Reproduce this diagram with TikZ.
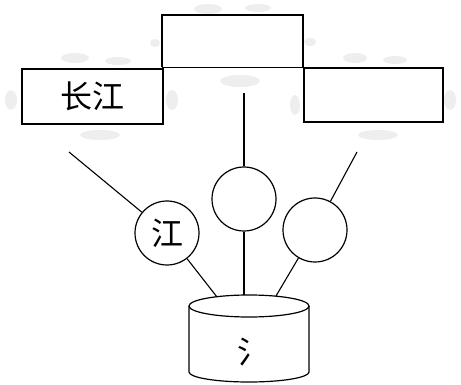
\documentclass[tikz,border=0pt]{standalone}
\usepackage{fontspec}
\newfontfamily\cjk{Noto Sans CJK SC}
\begin{document}
\begin{tikzpicture}[x=1pt,y=-1pt,
  box/.style={draw, line width=2pt},
  ring/.style={draw, circle, line width=1.2pt, minimum size=64pt, inner sep=0pt, font=\cjk\fontsize{32}{32}\selectfont},
  wire/.style={line width=1.1pt},
  cloud/.style={fill=gray!13, draw=none}]
\useasboundingbox (0,0) rectangle (461,385);
% decorative clouds
\fill[cloud] (208,9) ellipse (14 and 5);
\fill[cloud] (258,8) ellipse (13 and 4);
\fill[cloud] (155,43) ellipse (5 and 4);
\fill[cloud] (310,42) ellipse (6 and 4);
\fill[cloud] (75,58) ellipse (14 and 5);
\fill[cloud] (118,61) ellipse (13 and 4);
\fill[cloud] (11,100) ellipse (6 and 10);
\fill[cloud] (172,100) ellipse (6 and 10);
\fill[cloud] (240,81) ellipse (20 and 6);
\fill[cloud] (355,58) ellipse (12 and 5);
\fill[cloud] (395,60) ellipse (12 and 4);
\fill[cloud] (450,100) ellipse (6 and 10);
\fill[cloud] (295,105) ellipse (5 and 10);
\fill[cloud] (100,135) ellipse (20 and 5);
\fill[cloud] (378,135) ellipse (20 and 5);
% boxes
\node[box, minimum width=141pt, minimum height=55pt, inner sep=0pt, anchor=north west,
      font=\cjk\fontsize{32}{32}\selectfont] (L) at (21,68) {长江};
\node[minimum width=141pt, minimum height=52pt, inner sep=0pt, anchor=north west] (T) at (162,15) {};
\draw[line width=2pt] (T.south west) -- (T.north west) -- (T.north east) -- (T.south east);
\draw[line width=1.1pt] (T.south west) -- (T.south east);
\node[box, minimum width=139pt, minimum height=54pt, inner sep=0pt, anchor=north west] (R) at (303,67) {};
% circles
\node[ring] (c1) at (167,233) {江};
\node[ring] (c2) at (244,199) {};
\node[ring] (c3) at (315,230) {};
% cylinder
\coordinate (cyl) at (249,306);
\draw[line width=1.2pt] (189,306) -- (189,372) arc[start angle=180,end angle=0,x radius=60,y radius=10] -- (309,306);
\draw[line width=1.2pt, fill=white] (cyl) ellipse (60 and 11);
\node[font=\cjk\fontsize{31}{31}\selectfont] (D) at (253,352) {氵};
% free ends
\coordinate (e1) at (69,152);
\coordinate (e2) at (244,93);
\coordinate (e3) at (357,152);
\coordinate (d1) at (217,297);
\coordinate (d2) at (244,295);
\coordinate (d3) at (276,296);
% wires
\draw[wire] (e1) -- (c1);
\draw[wire] (e2) -- (c2);
\draw[wire] (e3) -- (c3);
\draw[wire] (c1) -- (d1);
\draw[wire] (c2) -- (d2);
\draw[wire] (c3) -- (d3);
\end{tikzpicture}
\end{document}
